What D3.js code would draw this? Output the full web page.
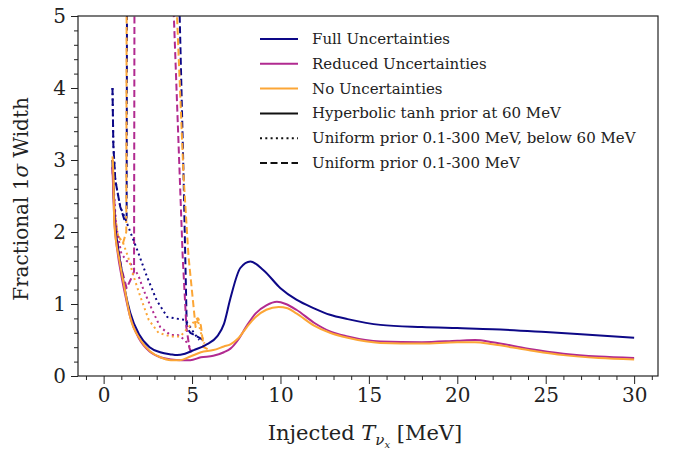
<!DOCTYPE html>
<html>
<head>
<meta charset="utf-8">
<script src="https://cdn.jsdelivr.net/npm/d3@7"></script>
<style>
  html, body { margin: 0; padding: 0; background: #fff; }
  svg { display: block; }
</style>
</head>
<body>
<svg id="chart" width="675" height="450"></svg>
<script>
// ---------- data ----------
const colors = { full: "#0d0887", reduced: "#b12a90", none: "#fca636" };

// Solid: hyperbolic tanh prior at 60 MeV
const fullSolid = [[0.5,3.0],[0.6,2.3],[0.8,1.8],[1.0,1.5],[1.2,1.2],[1.5,0.88],[2.0,0.58],[2.6,0.4],[3.2,0.33],[3.8,0.3],[4.15,0.29],[4.6,0.31],[5.1,0.36],[5.76,0.43],[6.42,0.55],[6.8,0.72],[7.17,1.08],[7.73,1.5],[8.3,1.59],[9.04,1.47],[10.0,1.22],[10.9,1.06],[11.9,0.94],[12.8,0.85],[13.8,0.79],[15.65,0.71],[18,0.68],[20,0.665],[22,0.65],[25,0.61],[27,0.58],[30,0.53]];
const reducedSolid = [[0.5,2.9],[0.6,2.2],[0.8,1.7],[1.0,1.4],[1.2,1.15],[1.5,0.82],[2.0,0.52],[2.6,0.34],[3.2,0.26],[3.8,0.23],[4.4,0.22],[4.9,0.22],[5.5,0.26],[6.2,0.28],[6.8,0.33],[7.17,0.38],[7.6,0.5],[8.1,0.7],[8.6,0.87],[9.2,0.98],[9.8,1.03],[10.3,1.0],[10.9,0.92],[11.9,0.74],[12.8,0.62],[13.8,0.55],[15.65,0.48],[18,0.47],[20,0.49],[21,0.5],[22,0.47],[24,0.38],[26,0.31],[28,0.27],[30,0.25]];
const noneSolid = [[0.5,3.05],[0.55,2.8],[0.6,2.12],[0.9,1.6],[1.17,1.24],[1.5,0.82],[2.08,0.5],[2.64,0.34],[3.2,0.26],[3.8,0.22],[4.3,0.22],[4.9,0.27],[5.5,0.33],[6.2,0.36],[6.8,0.41],[7.17,0.44],[7.6,0.52],[8.1,0.68],[8.6,0.82],[9.2,0.92],[9.9,0.96],[10.4,0.94],[10.9,0.87],[11.9,0.7],[12.8,0.6],[13.8,0.53],[15.65,0.46],[18,0.45],[20,0.47],[21,0.47],[22,0.44],[24,0.36],[26,0.29],[28,0.25],[30,0.23]];

// Dotted: uniform prior 0.1-300 MeV, below 60 MeV
const fullDotted = [[0.5,4.0],[0.55,3.2],[0.66,2.72],[0.94,2.35],[1.2,2.2],[1.4,2.07],[1.9,1.75],[2.45,1.38],[3.0,1.05],[3.6,0.82],[4.05,0.8],[4.6,0.78],[4.9,0.68],[5.1,0.6],[5.4,0.5]];
const reducedDotted = [[0.5,2.9],[0.7,2.1],[1.0,1.7],[1.3,1.6],[1.5,1.57],[1.96,1.4],[2.25,1.2],[2.74,0.92],[3.2,0.68],[3.77,0.57],[4.2,0.57],[4.6,0.5],[4.8,0.43],[5.0,0.35]];
const noneDotted = [[0.5,3.0],[0.6,2.3],[0.8,1.95],[1.1,1.85],[1.4,1.64],[1.7,1.38],[2.08,1.1],[2.55,0.78],[3.1,0.6],[3.77,0.55],[4.34,0.55],[4.8,0.68],[5.1,0.75],[5.3,0.8],[5.5,0.6],[5.7,0.45]];

// Dashed: uniform prior 0.1-300 MeV (values above 5 run off the top of the axes)
const fullDashed = [[0.5,4.0],[0.55,3.2],[0.66,2.72],[0.94,2.35],[1.2,2.15],[1.3,2.2],[1.34,8],[4.0,8],[4.3,5],[4.52,2.77],[4.7,0.68],[4.9,0.6],[5.5,0.52],[5.75,0.48]];
const reducedDashed = [[0.5,2.9],[0.7,2.0],[1.0,1.5],[1.3,1.22],[1.55,1.35],[1.72,1.45],[1.76,8],[3.5,8.1],[3.97,5],[4.47,1.66],[4.68,0.68],[4.85,0.39],[5.0,0.3]];
const noneDashed = [[0.5,3.0],[0.6,2.3],[0.8,1.95],[1.1,1.85],[1.28,2.0],[1.32,8],[3.7,8],[4.15,5],[4.52,2.77],[4.8,1.66],[5.2,0.68],[5.35,0.8],[5.5,0.7],[5.65,0.4],[6.0,0.36]];

const xTicks = [0, 5, 10, 15, 20, 25, 30];
const yTicks = [0, 1, 2, 3, 4, 5];
const legendLabels = ["Full Uncertainties", "Reduced Uncertainties", "No Uncertainties",
  "Hyperbolic tanh prior at 60 MeV", "Uniform prior 0.1-300 MeV, below 60 MeV", "Uniform prior 0.1-300 MeV"];

// ---------- layout ----------
const FONT = "'DejaVu Serif', serif";
const svg = d3.select("#chart");
const m = { left: 78, right: 658, top: 16, bottom: 376 };
const x = d3.scaleLinear().domain([-1.45, 31.35]).range([m.left, m.right]);
const y = d3.scaleLinear().domain([0, 5]).range([m.bottom, m.top]);

svg.append("defs").append("clipPath").attr("id", "clip")
  .append("rect").attr("x", m.left).attr("y", m.top)
  .attr("width", m.right - m.left).attr("height", m.bottom - m.top);

const DASH = "7,3.5", DOT = "2,3.3";
const series = [
  { d: fullDashed, c: colors.full, dash: DASH },
  { d: reducedDashed, c: colors.reduced, dash: DASH },
  { d: noneDashed, c: colors.none, dash: DASH },
  { d: fullDotted, c: colors.full, dash: DOT },
  { d: reducedDotted, c: colors.reduced, dash: DOT },
  { d: noneDotted, c: colors.none, dash: DOT },
  { d: fullSolid, c: colors.full, dash: null, smooth: true },
  { d: reducedSolid, c: colors.reduced, dash: null, smooth: true },
  { d: noneSolid, c: colors.none, dash: null, smooth: true },
];

const g = svg.append("g").attr("clip-path", "url(#clip)");
series.forEach(s => {
  const line = d3.line().x(p => x(p[0])).y(p => y(p[1]))
    .curve(s.smooth ? d3.curveMonotoneX : d3.curveLinear);
  g.append("path").datum(s.d).attr("d", line)
    .attr("fill", "none").attr("stroke", s.c).attr("stroke-width", 2)
    .attr("stroke-dasharray", s.dash).attr("stroke-linejoin", "round");
});

// ---------- axes ----------
const xMinor = d3.range(-1, 32, 1).filter(v => !xTicks.includes(v));
const yMinor = d3.range(0, 5.01, 0.2).map(v => +v.toFixed(1)).filter(v => !yTicks.includes(v));

const xAx = svg.append("g").attr("transform", `translate(0,${m.bottom})`);
xAx.call(d3.axisBottom(x).tickValues(xMinor).tickSize(4).tickFormat(""));
xAx.append("g").call(d3.axisBottom(x).tickValues(xTicks).tickSize(8).tickPadding(4).tickFormat(d3.format("d")));
const yAx = svg.append("g").attr("transform", `translate(${m.left},0)`);
yAx.call(d3.axisLeft(y).tickValues(yMinor).tickSize(4).tickFormat(""));
yAx.append("g").call(d3.axisLeft(y).tickValues(yTicks).tickSize(7).tickPadding(5).tickFormat(d3.format("d")));
svg.selectAll(".domain").remove();
svg.selectAll(".tick line").attr("stroke", "#222").attr("stroke-width", 1);
svg.selectAll(".tick text").attr("font-family", FONT).attr("font-size", 20).attr("fill", "#222");

svg.append("rect").attr("x", m.left).attr("y", m.top)
  .attr("width", m.right - m.left).attr("height", m.bottom - m.top)
  .attr("fill", "none").attr("stroke", "#222").attr("stroke-width", 1.2);

// axis labels
const xl = svg.append("text").attr("x", (m.left + m.right) / 2 - 3).attr("y", 440)
  .attr("text-anchor", "middle").attr("font-family", FONT).attr("font-size", 21).attr("fill", "#222");
xl.append("tspan").text("Injected ");
xl.append("tspan").attr("font-style", "italic").text("T");
xl.append("tspan").attr("font-style", "italic").attr("font-size", 15).attr("dy", 5).text("ν");
xl.append("tspan").attr("font-style", "italic").attr("font-size", 10).attr("dy", 3).text("x");
xl.append("tspan").attr("dy", -8).text(" [MeV]");

const yl = svg.append("text").attr("transform", `translate(28,${(m.top + m.bottom) / 2 + 3}) rotate(-90)`)
  .attr("text-anchor", "middle").attr("font-family", FONT).attr("font-size", 20).attr("fill", "#222");
yl.append("tspan").text("Fractional 1");
yl.append("tspan").attr("font-style", "italic").text("σ");
yl.append("tspan").text(" Width");

// legend
const legItems = [
  { c: colors.full, dash: null }, { c: colors.reduced, dash: null }, { c: colors.none, dash: null },
  { c: "#111", dash: null }, { c: "#111", dash: DOT }, { c: "#111", dash: DASH },
];
const leg = svg.append("g");
legendLabels.forEach((lab, i) => {
  const yy = 39 + i * 24.8;
  leg.append("line").attr("x1", 260).attr("x2", 298).attr("y1", yy).attr("y2", yy)
    .attr("stroke", legItems[i].c).attr("stroke-width", 2).attr("stroke-dasharray", legItems[i].dash);
  leg.append("text").attr("x", 312).attr("y", yy + 5).attr("font-family", FONT)
    .attr("font-size", 15).attr("fill", "#222").text(lab);
});
</script>
</body>
</html>
